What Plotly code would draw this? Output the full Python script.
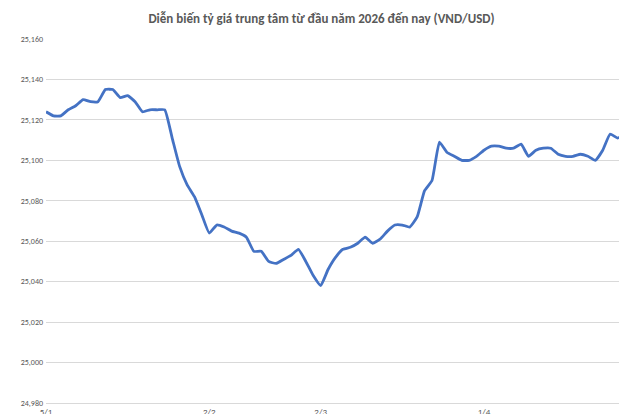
import plotly.graph_objects as go

values = [25124,25122,25122,25125,25127,25130,25129,25129,25135,25135,
          25131,25132,25129,25124,25125,25125,25125,25111,25097,25088,
          25082,25073,25064,25068,25067,25065,25064,25062,25055,25055,
          25050,25049,25051,25053,25056,25050,25043,25038,25046,25052,
          25056,25057,25059,25062,25059,25061,25065,25068,25068,25067,
          25072,25085,25090,25109,25104,25102,25100,25100,25102,25105,
          25107,25107,25106,25106,25108,25102,25105,25106,25106,25103,
          25102,25102,25103,25102,25100,25105,25113,25111,25113]
tick_positions = [0, 22, 37, 59]
tick_labels = ["5/1", "2/2", "2/3", "1/4"]
y_ticks = list(range(24980, 25161, 20))

x = list(range(len(values)))
fig = go.Figure(go.Scatter(x=x, y=values, mode="lines",
                           line=dict(color="#4472C4", width=2.8, shape="spline", smoothing=0.4),
                           hoverinfo="skip"))
fig.update_layout(
    width=627, height=414, margin=dict(l=38, r=10, t=31, b=19, autoexpand=False),
    paper_bgcolor="white", plot_bgcolor="white", showlegend=False,
    font=dict(family="Calibri, Liberation Sans, Arial", color="#595959", size=9),
    title=dict(text="<b>Diễn biến tỷ giá trung tâm từ đầu năm 2026 đến nay (VND/USD)</b>",
               x=0.5, xanchor="center", y=0.985, yanchor="top",
               font=dict(size=13, color="#595959")),
)
fig.update_xaxes(range=[0, len(values)-1], tickvals=tick_positions, ticktext=tick_labels,
                 showgrid=False, zeroline=False, showline=True, linecolor="#D9D9D9",
                 ticks="", automargin=False, tickfont=dict(size=9, color="#595959"))
fig.update_yaxes(range=[24980, 25160], tickvals=y_ticks, tickformat=",d",
                 showgrid=True, gridcolor="#D9D9D9", gridwidth=1, zeroline=False,
                 ticks="", automargin=False, ticklabelstandoff=2,
                 tickfont=dict(size=8, color="#595959"))
fig.write_html("out.html")
